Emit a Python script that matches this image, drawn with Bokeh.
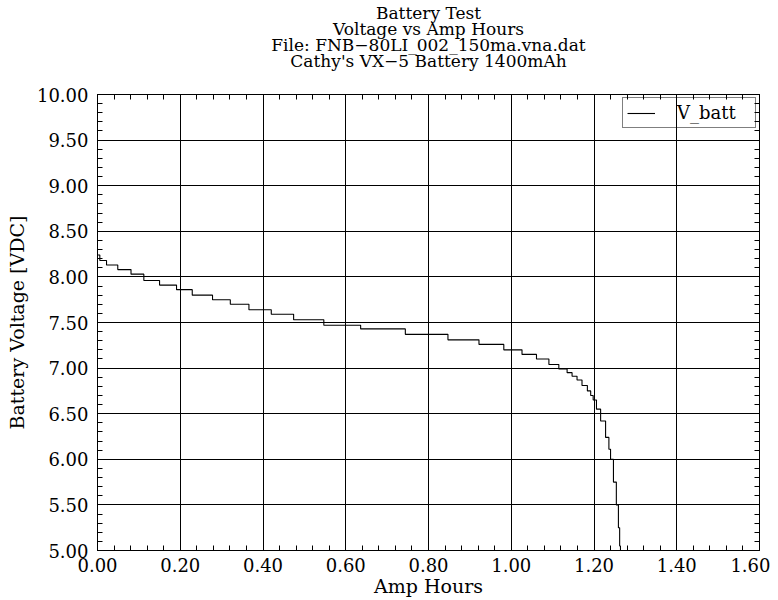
import numpy as np
from bokeh.plotting import figure
from bokeh.models import LinearAxis, FixedTicker, Title
from bokeh.embed import file_html
from bokeh.resources import INLINE

# ---- data ----
amp_hours = [0.000, 0.0056, 0.0218, 0.049, 0.081, 0.112, 0.150, 0.191, 0.229, 0.278,
             0.321, 0.366, 0.420, 0.474, 0.547, 0.636, 0.744, 0.847, 0.922, 0.982,
             1.026, 1.061, 1.091, 1.115, 1.135, 1.147, 1.159, 1.171, 1.184, 1.192,
             1.198, 1.206, 1.216, 1.228, 1.236, 1.240, 1.247, 1.254, 1.259, 1.262, 1.264]
voltage = [8.24, 8.18, 8.13, 8.08, 8.03, 7.96, 7.91, 7.86, 7.80, 7.75,
           7.70, 7.64, 7.59, 7.53, 7.47, 7.43, 7.37, 7.31, 7.26, 7.20,
           7.15, 7.10, 7.04, 6.99, 6.95, 6.91, 6.87, 6.81, 6.75, 6.70,
           6.65, 6.55, 6.42, 6.24, 6.11, 6.00, 5.75, 5.50, 5.25, 5.05, 4.98]
series_name = "V_batt"

x_ticks = [0.0, 0.2, 0.4, 0.6, 0.8, 1.0, 1.2, 1.4, 1.6]
x_tick_labels = ["0.00", "0.20", "0.40", "0.60", "0.80", "1.00", "1.20", "1.40", "1.60"]
y_ticks = [5.0, 5.5, 6.0, 6.5, 7.0, 7.5, 8.0, 8.5, 9.0, 9.5, 10.0]
y_tick_labels = ["5.00", "5.50", "6.00", "6.50", "7.00", "7.50", "8.00", "8.50", "9.00", "9.50", "10.00"]

title_lines = ["Battery Test", "Voltage vs Amp Hours",
               "File: FNB\u221280LI_002_150ma.vna.dat", "Cathy's VX\u22125 Battery 1400mAh"]
x_label = "Amp Hours"
y_label = "Battery Voltage [VDC]"

FONT = "DejaVu Serif"
FRAME_W, FRAME_H = 662, 456
TOP = 94

p = figure(frame_width=FRAME_W, frame_height=FRAME_H, x_range=(0, 1.6), y_range=(5, 10),
           output_backend="svg", toolbar_location=None, title=None,
           min_border_left=97, min_border_right=11, min_border_top=TOP, min_border_bottom=40)
p.background_fill_color = "white"
p.border_fill_color = "white"
p.outline_line_color = "black"
p.outline_line_width = 1

p.step(amp_hours, voltage, mode="after", line_color="black", line_width=1.1,
       legend_label=series_name)

x_minor = list(np.round(np.arange(0, 1.6001, 0.04), 3))
y_minor = list(np.round(np.arange(5, 10.0001, 0.1), 2))

def style(ax, ticks, minor):
    ax.ticker = FixedTicker(ticks=ticks, minor_ticks=minor)
    ax.major_tick_in = 7
    ax.major_tick_out = 0
    ax.minor_tick_in = 5
    ax.minor_tick_out = 0
    ax.axis_line_color = "black"
    ax.major_tick_line_color = "black"
    ax.minor_tick_line_color = "black"

xa = p.xaxis[0]
ya = p.yaxis[0]
style(xa, x_ticks, x_minor)
style(ya, y_ticks, y_minor)
xa.major_label_overrides = {t: l for t, l in zip(x_ticks, x_tick_labels)}
ya.major_label_overrides = {t: l for t, l in zip(y_ticks, y_tick_labels)}
for ax in (xa, ya):
    ax.major_label_text_font = FONT
    ax.major_label_text_font_size = "18px"
    ax.major_label_text_color = "black"
    ax.axis_label_text_font = FONT
    ax.axis_label_text_font_size = "19px"
    ax.axis_label_text_font_style = "normal"
    ax.axis_label_text_color = "black"
xa.major_label_standoff = 7
ya.major_label_standoff = 9
xa.axis_label = x_label
ya.axis_label = y_label
xa.axis_label_standoff = 0
ya.axis_label_standoff = 6

# mirrored tick axes (top and right) with minor ticks only, no labels
top_ax = LinearAxis()
right_ax = LinearAxis()
style(top_ax, [], x_minor)
style(right_ax, [], y_minor)
p.add_layout(top_ax, "above")
p.add_layout(right_ax, "right")

p.xgrid.ticker = FixedTicker(ticks=x_ticks)
p.ygrid.ticker = FixedTicker(ticks=y_ticks)
for g in (p.xgrid, p.ygrid):
    g.grid_line_color = "black"
    g.grid_line_alpha = 1.0
    g.grid_line_width = 1

# gap between the title block and the frame
p.add_layout(Title(text=" ", align="center", text_font=FONT, text_font_size="17px",
                   standoff=5, offset=0), "above")
# four centred title lines; first added sits closest to the plot
for txt in reversed(title_lines):
    p.add_layout(Title(text=txt, align="center", text_font=FONT, text_font_size="17px",
                       text_font_style="normal", text_color="black",
                       standoff=-6, offset=0), "above")

lg = p.legend[0]
lg.location = "top_right"
lg.margin = 3
lg.padding = 4
lg.spacing = 0
lg.border_line_color = "black"
lg.border_line_width = 1
lg.background_fill_alpha = 0
lg.glyph_width = 28
lg.label_standoff = 22
lg.label_width = 74
lg.label_height = 14
lg.label_text_font = FONT
lg.label_text_font_size = "18px"
lg.label_text_color = "black"

open("out.html", "w").write(file_html(p, INLINE))
